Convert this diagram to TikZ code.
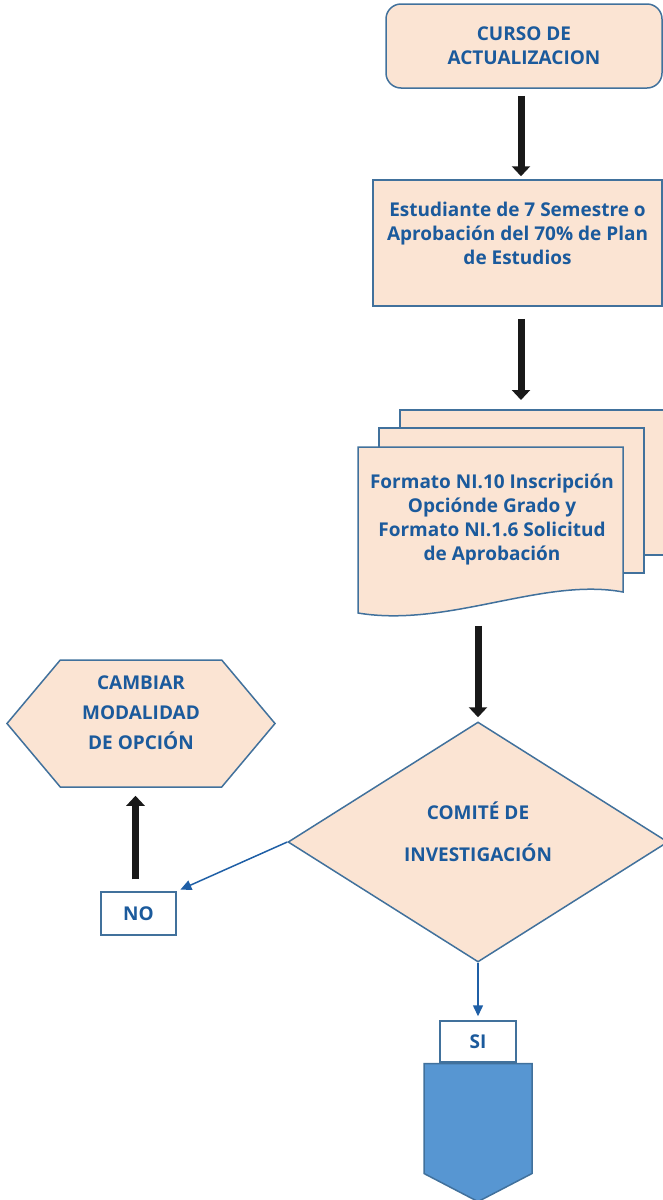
\documentclass[tikz,border=0pt]{standalone}
\usepackage{fontspec}
\setmainfont{Open Sans}
\usepackage{tikz}
\usetikzlibrary{shapes.geometric}
\usetikzlibrary{shapes.symbols}
\usetikzlibrary{arrows.meta}
\definecolor{peach}{HTML}{FBE4D3}
\definecolor{edge}{HTML}{41719C}
\definecolor{ink}{HTML}{1B5A9C}
\definecolor{flecha}{HTML}{1F5FA6}
\definecolor{azul}{HTML}{5796D2}

\begin{document}
\begin{tikzpicture}[x=1pt,y=-1pt,line width=1.5pt,
  caja/.style={rectangle,draw=edge,fill=peach,text=ink,align=center,inner sep=0pt,font=\bfseries\fontsize{19}{24}\selectfont},
  etiqueta/.style={rectangle,draw=edge,fill=white,text=ink,inner sep=0pt,font=\bfseries\fontsize{19}{24}\selectfont},
  gruesa/.style={line width=7pt,black!90,-{Triangle[length=10pt,width=18pt]}},
  fina/.style={flecha,line width=1.5pt,-{Triangle[length=11pt,width=10pt]}}]
\useasboundingbox (0,0) rectangle (662,1200);

\node [caja,rounded corners=15pt,minimum width=276pt,minimum height=84pt,at={(524,46)}] (curso) {CURSO DE\\ACTUALIZACION};
\node [caja,text depth=19pt,minimum width=289pt,minimum height=126pt,at={(517.5,243)}] (estudiante) {Estudiante de 7 Semestre o\\Aprobación del 70\% de Plan\\de Estudios};
\coordinate (pila) at (521,410);

% hojas de atras
\foreach \dx/\dy in {42/37,21/19}
  \draw [draw=edge,fill=peach,xshift=\dx pt,yshift=\dy pt] (358,447) rectangle (623,592);
\draw [draw=edge,fill=peach] (358,447) -- (623,447) -- (623,592) .. controls (543,577) and (448,628) .. (358,613) -- cycle;
\node [caja,draw=none,fill=none,minimum width=265pt,minimum height=145pt,at={(492,519.5)}] (formato) {Formato NI.10 Inscripción\\Opciónde Grado y\\Formato NI.1.6 Solicitud\\de Aprobación};

\node [caja,diamond,text depth=21pt,minimum width=380pt,minimum height=240pt,at={(478,842)}] (comite) {COMITÉ DE\\[18pt]INVESTIGACIÓN};
\node [caja,signal,signal to=east and west,signal pointer angle=100,text depth=21pt,minimum width=268pt,minimum height=127pt,at={(141,723.5)}] (cambiar) {CAMBIAR\\[6pt]MODALIDAD\\[6pt]DE OPCIÓN};
\node [etiqueta,minimum width=75pt,minimum height=43pt,at={(138.5,913.5)}] (no) {NO};
\node [etiqueta,minimum width=76pt,minimum height=41pt,at={(478,1041.5)}] (si) {SI};
\node [signal,signal to=south,signal from=nowhere,signal pointer angle=125,draw=edge,fill=azul,inner sep=0pt,minimum width=108pt,minimum height=110pt,below=0pt,at=(si.south)] (pagina) {};

\draw [gruesa,shorten <=7pt,shorten >=3pt] ([xshift=-3pt]curso.south) -- ([xshift=-3pt]curso.south |- estudiante.north);
\draw [gruesa,shorten <=12pt,shorten >=10pt] (estudiante.south -| pila) -- (pila);
\draw [gruesa,shorten <=33pt,shorten >=4pt] (formato.south -| comite.north) -- (comite.north);
\draw [gruesa,shorten <=12pt,shorten >=8pt] ([xshift=-3pt]no.north) -- ([xshift=-3pt]no.north |- cambiar.south);
\draw [fina,shorten >=4pt] (comite.west) -- (no.north east);
\draw [fina,shorten >=4pt] (comite.south) -- (si.north);
\end{tikzpicture}
\end{document}
